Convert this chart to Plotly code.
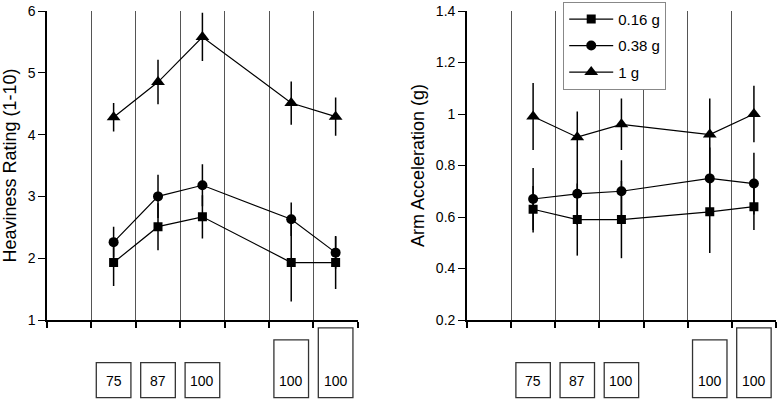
import plotly.graph_objects as go

# ---- data ----
positions = [1.5, 2.5, 3.5, 5.5, 6.5]
box_labels = ["75", "87", "100", "100", "100"]
box_rel_height = [1.0, 1.0, 1.0, 1.65, 1.99]
series_names = ["0.16 g", "0.38 g", "1 g"]

heavy_016 = [1.93, 2.51, 2.67, 1.93, 1.93]
heavy_016_err = [0.38, 0.38, 0.35, 0.63, 0.43]
heavy_038 = [2.26, 3.00, 3.18, 2.63, 2.09]
heavy_038_err = [0.25, 0.35, 0.34, 0.27, 0.26]
heavy_1 = [4.28, 4.85, 5.58, 4.51, 4.29]
heavy_1_err = [0.23, 0.36, 0.39, 0.35, 0.31]

acc_016 = [0.63, 0.59, 0.59, 0.62, 0.64]
acc_016_err = [0.09, 0.14, 0.15, 0.16, 0.09]
acc_038 = [0.67, 0.69, 0.70, 0.75, 0.73]
acc_038_err = [0.12, 0.12, 0.12, 0.12, 0.12]
acc_1 = [0.99, 0.91, 0.96, 0.92, 1.00]
acc_1_err = [0.13, 0.10, 0.10, 0.14, 0.11]

# ---- figure ----
FONT = "Liberation Sans, Arial, Helvetica, sans-serif"
symbols = ["square", "circle", "triangle-up"]
msizes = [9, 10, 12]

fig = go.Figure()

left = [(heavy_016, heavy_016_err), (heavy_038, heavy_038_err), (heavy_1, heavy_1_err)]
right = [(acc_016, acc_016_err), (acc_038, acc_038_err), (acc_1, acc_1_err)]

for i, (vals, err) in enumerate(left):
    fig.add_trace(go.Scatter(
        x=positions, y=vals, mode="lines+markers", xaxis="x", yaxis="y",
        line=dict(color="black", width=1.2),
        marker=dict(symbol=symbols[i], size=msizes[i], color="black"),
        error_y=dict(type="data", array=err, visible=True, color="black",
                     thickness=1.5, width=0),
        showlegend=False, name=series_names[i]))

for i, (vals, err) in enumerate(right):
    fig.add_trace(go.Scatter(
        x=positions, y=vals, mode="lines+markers", xaxis="x2", yaxis="y2",
        line=dict(color="black", width=1.2),
        marker=dict(symbol=symbols[i], size=msizes[i], color="black"),
        error_y=dict(type="data", array=err, visible=True, color="black",
                     thickness=1.5, width=0),
        showlegend=True, legendgroup=series_names[i], name=series_names[i]))

plot_top_px, plot_bot_px = 10.7, 320.0
plot_h = plot_bot_px - plot_top_px


def py(px):
    return (plot_bot_px - px) / plot_h


box_bottom = py(397.8)
base_h = (397.8 - 362.7) / plot_h
half_w = 0.39

shapes = []
annotations = []
for xr in ["x", "x2"]:
    for p, lab, rh in zip(positions, box_labels, box_rel_height):
        shapes.append(dict(type="rect", xref=xr, yref="paper",
                           x0=p - half_w, x1=p + half_w,
                           y0=box_bottom, y1=box_bottom + base_h * rh,
                           line=dict(color="#333333", width=1.3),
                           fillcolor="white"))
        annotations.append(dict(xref=xr, yref="paper", x=p, y=py(381.5),
                                text=lab, showarrow=False,
                                font=dict(family=FONT, size=14, color="black"),
                                xanchor="center", yanchor="middle"))

xcommon = dict(range=[0, 7], dtick=1, tick0=0, showticklabels=False,
               showgrid=True, gridcolor="#555555", gridwidth=1,
               showline=True, linecolor="black", linewidth=1.5,
               ticks="outside", ticklen=6, tickcolor="black", tickwidth=1.5,
               zeroline=False, fixedrange=True, automargin=False)
ycommon = dict(showgrid=False, showline=True, linecolor="black", linewidth=1.5,
               ticks="outside", ticklen=7, tickcolor="black", tickwidth=1,
               zeroline=False, automargin=False,
               tickfont=dict(family=FONT, size=14, color="black"),
               title_font=dict(family=FONT, size=18, color="black"))

L = 47
R = 780 - 4.3
W = R - L
fig.update_layout(
    width=780, height=402,
    margin=dict(l=L, r=780 - R, t=plot_top_px, b=402 - plot_bot_px,
                autoexpand=False),
    paper_bgcolor="white", plot_bgcolor="white",
    font=dict(family=FONT, color="black"),
    xaxis=dict(domain=[0, (357.7 - L) / W], **xcommon),
    xaxis2=dict(domain=[(466.7 - L) / W, 1], anchor="y2", **xcommon),
    yaxis=dict(range=[1, 6], dtick=1, anchor="x",
               title=dict(text="Heaviness Rating (1-10)", standoff=7), **ycommon),
    yaxis2=dict(range=[0.2, 1.4], dtick=0.2, tick0=0.2, anchor="x2",
                title=dict(text="Arm Acceleration (g)", standoff=7), **ycommon),
    legend=dict(x=(563 - L) / W, y=py(1.5), xanchor="left", yanchor="top",
                bordercolor="#888888", borderwidth=1, bgcolor="white",
                font=dict(family=FONT, size=15, color="black"),
                tracegroupgap=4, itemwidth=44, entrywidth=100,
                entrywidthmode="pixels"),
    shapes=shapes, annotations=annotations,
)

fig.write_html("out.html", config={"displayModeBar": False},
               post_script="document.body.style.margin='0';"
                           "document.body.style.overflow='hidden';")
